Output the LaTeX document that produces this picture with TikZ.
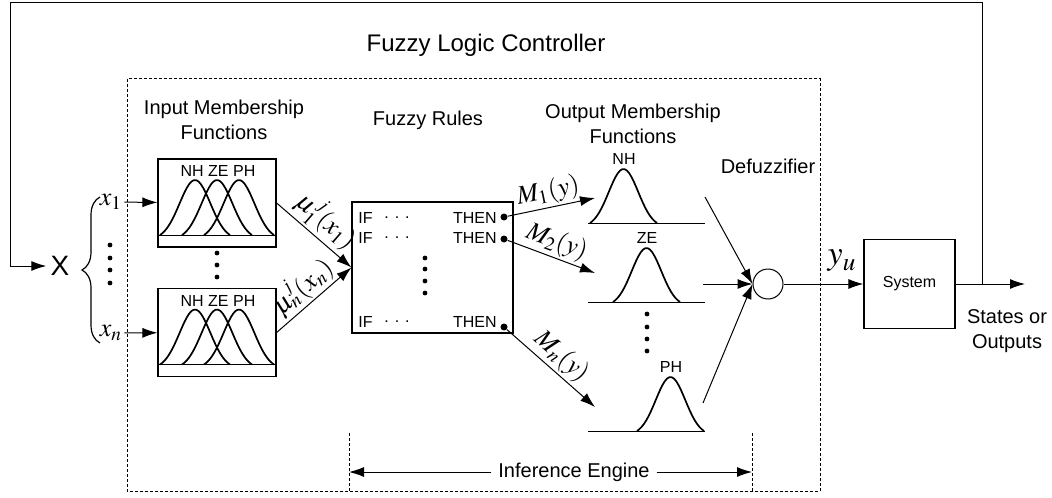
\documentclass[tikz,border=0pt]{standalone}
\usepackage{mathptmx}
\usepackage{fontspec}
\setmainfont{Liberation Sans}
\usetikzlibrary{arrows.meta, decorations.pathreplacing}
\tikzstyle{box}=[shape=rectangle,draw=black,line width=0.6pt,inner sep=0pt]
\tikzstyle{mfbox}=[box,minimum width=59pt,minimum height=44pt]
\tikzstyle{l}=[draw,line width=0.5pt,-{Latex[length=7.5pt,width=5pt]}]
\tikzstyle{bell}=[line width=0.85pt]
\tikzstyle{fence}=[line width=0.5pt,dash pattern=on 1.5pt off 1pt]
\tikzstyle{dot}=[shape=circle,fill=black,inner sep=0pt,minimum size=2.4pt]
\tikzstyle{bigdot}=[shape=circle,fill=black,inner sep=0pt,minimum size=3.5pt]
\tikzstyle{tag}=[font=\fontsize{8}{9}\selectfont,inner sep=1pt]
\tikzstyle{head}=[font=\fontsize{10}{12.5}\selectfont,align=center]
\tikzstyle{sym}=[font=\fontsize{13}{15}\selectfont,inner sep=1pt]

\begin{document}
\begin{tikzpicture}[x=0.5pt,y=-0.5pt]
\useasboundingbox (0,0) rectangle (1052,497);

% controller frame
\draw[fence] (127,79) rectangle (820,491);
\node[font=\fontsize{12}{14}\selectfont] (title) at (486,45) {Fuzzy Logic Controller};

% headings
\node[head] (hin) at (224,120) {Input Membership\\Functions};
\node[head] (hrule) at (428,120) {Fuzzy Rules};
\node[head] (hout) at (633,124) {Output Membership\\Functions};
\node[head] (hdef) at (768,166) {Defuzzifier};

% inputs
\node[font=\fontsize{14}{16}\selectfont,inner sep=2pt] (X) at (60,266) {X};
\draw[line width=0.6pt,decorate,decoration={brace,amplitude=9pt}] (100,343) -- (100,197);
\node[sym] (x1) at (111,202) {$x_1$};
\node[sym] (xn) at (111,333) {$x_n$};
\foreach \y in {245,258,270,283}
  \node[dot] at (110,\y) {};

% input membership functions
\foreach \nm/\cy in {in1/203,inn/332.5} {
  \node[mfbox] (\nm) at (217,\cy) {};
  \draw[line width=0.5pt] (158,{\cy+32}) -- (276,{\cy+32});
  \foreach \s in {160,182,204}
    \draw[bell] plot[domain=0:1,samples=30] ({\s+70*\x},{\cy+32-55*(exp(-((\x-0.5)/0.22)^2/2)-0.076)/0.924});
  \node[tag] at (218,{\cy-32}) {NH ZE PH};
}
\foreach \y in {253,265,277}
  \node[dot] at (217,\y) {};

% rule base
\node[box,minimum width=80.5pt,minimum height=65.5pt] (rules) at (432.5,267.5) {};
\foreach \r/\y in {1/218,2/238,n/322} {
  \node[tag,anchor=west] (if\r) at (356,\y) {IF};
  \node[tag] at (397,\y) {. . .};
  \node[tag,anchor=east] (then\r) at (499,\y) {THEN};
}
\node[bigdot] (d1) at (504,217) {};
\node[bigdot] (d2) at (504,239) {};
\node[bigdot] (dn) at (504,327) {};
\foreach \y in {258,269,281,293}
  \node[dot] at (425,\y) {};

% output membership functions
\foreach \b/\s/\t in {223/590/NH,302/613/ZE,431/637/PH} {
  \draw[line width=0.5pt] (588,\b) -- (705,\b);
  \draw[bell] plot[domain=0:1,samples=30] ({\s+67*\x},{\b-54*(exp(-((\x-0.5)/0.22)^2/2)-0.076)/0.924});
  \node[tag] (t\t) at ({\s+34},{\b-64}) {\t};
}
\foreach \y in {314,327,339,351}
  \node[dot] at (647,\y) {};
\coordinate (o1) at (595,198);
\coordinate (o2) at (595,273);
\coordinate (on) at (595,407);

% defuzzifier and plant
\node[circle,draw,line width=0.5pt,minimum size=15pt,inner sep=0pt] (defz) at (768,284) {};
\coordinate (f1) at (705,197);
\coordinate (f2) at (703,284);
\coordinate (fn) at (703,403);
\node[box,minimum width=45.5pt,minimum height=44.5pt,font=\fontsize{8}{9}\selectfont] (sys) at (909.5,284) {System};
\node[font=\fontsize{17}{19}\selectfont] (yu) at (842,261) {$y_u$};
\node[head] (states) at (1007,331) {States or\\Outputs};
\coordinate (out) at (1025,284);
\coordinate (tap) at (982,284);
\coordinate (corner) at (10,3);

% inference engine span
\draw[fence] (349,433) -- (349,491);
\draw[fence] (752,433) -- (752,491);
\coordinate (ieL) at (349,472);
\coordinate (ieR) at (752,472);
\node[head] (ie) at (574,472) {Inference Engine};

% paths
\path [l] (x1) -- (in1);
\path [l] (xn) -- (inn);
\path [l] (in1.east) -- (rules.west) node[midway,above,sloped,sym] {$\mu_1^j(x_1)$};
\path [l] (inn.east) -- (rules.west) node[midway,above,sloped,sym] {$\mu_n^j(x_n)$};

\path [l] (d1) -- (o1) node[midway,above,sloped,sym] {$M_1(y)$};
\path [l] (d2) -- (o2) node[midway,above,sloped,sym] {$M_2(y)$};
\path [l] (dn) -- (on) node[midway,above,sloped,sym] {$M_n(y)$};

\path [l] (f1) -- (defz.west);
\path [l] (f2) -- (defz.west);
\path [l] (fn) -- (defz.west);

\path [l] (defz) -- (sys);
\path [l] (sys) -- (out);
\path [l] (tap) |- (corner) |- (X);

\path [l] (ie) -- (ieL);
\path [l] (ie) -- (ieR);

\end{tikzpicture}
\end{document}
